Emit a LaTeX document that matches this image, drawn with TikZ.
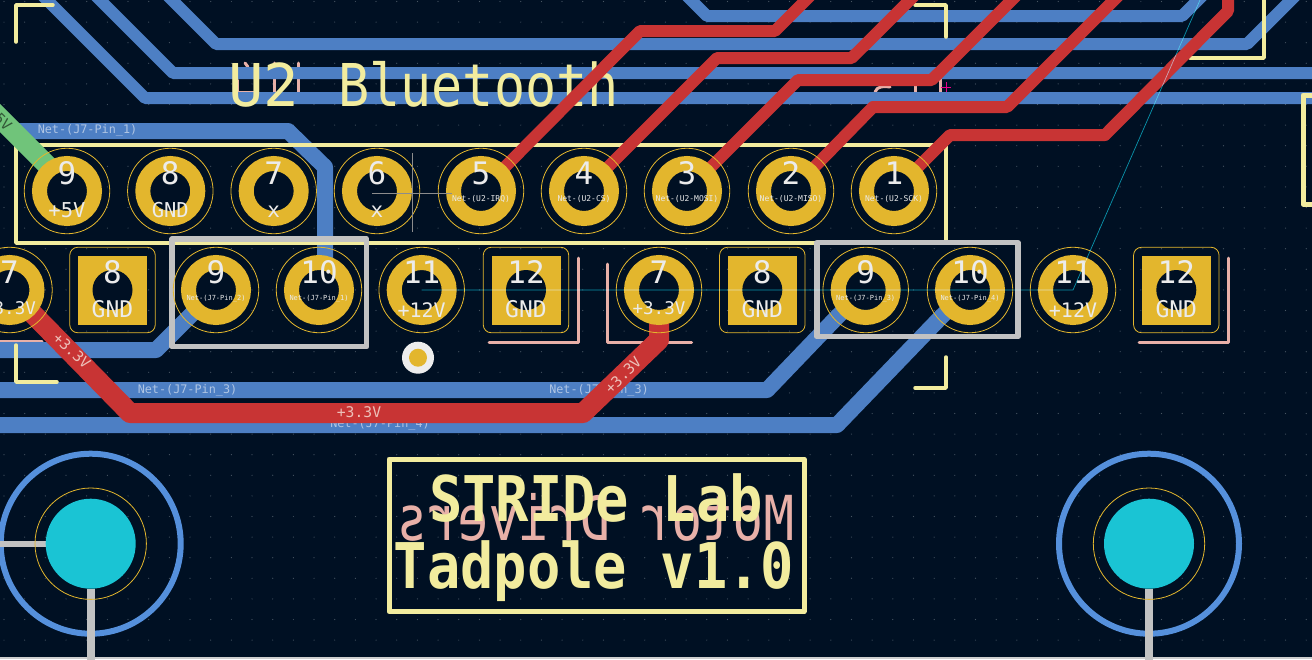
\documentclass[tikz,border=0pt]{standalone}
\usepackage{fontspec}
\usepackage{tikz}
\newfontfamily\kicadfont{DejaVu Sans Mono}
\definecolor{boardbg}{RGB}{0,16,35}
\definecolor{griddot}{RGB}{72,86,100}
\definecolor{bluecu}{RGB}{77,127,196}
\definecolor{redcu}{RGB}{200,52,52}
\definecolor{greencu}{RGB}{112,196,122}
\definecolor{silk}{RGB}{242,236,158}
\definecolor{pinksilk}{RGB}{232,176,168}
\definecolor{edgegrey}{RGB}{194,194,194}
\definecolor{padgold}{RGB}{227,182,45}
\definecolor{holecyan}{RGB}{26,196,212}
\definecolor{ringblue}{RGB}{85,144,220}
\definecolor{ratteal}{RGB}{10,140,158}
\tikzset{
  bluetrack/.style={draw=bluecu,line width=12pt,line join=round,line cap=round},
  bluewide/.style={draw=bluecu,line width=16pt,line join=round},
  redtrack/.style={draw=redcu,line width=12pt,line join=round},
  redwide/.style={draw=redcu,line width=20pt,line join=round},
  silkline/.style={draw=silk,line width=3.5pt,line join=round,line cap=round},
  pinkline/.style={draw=pinksilk,line width=3pt,line join=round,line cap=round},
  edgeline/.style={draw=edgegrey,line width=5.5pt,line join=round},
  clearring/.style={circle,draw=padgold,line width=0.8pt,minimum size=85.5pt,inner sep=0pt,outer sep=0pt},
  padring/.style={circle,draw=padgold,fill=boardbg,line width=15pt,minimum size=55pt,inner sep=0pt,outer sep=0pt},
  padsquare/.style={rectangle,fill=padgold,minimum size=69pt,inner sep=0pt,outer sep=0pt},
  clearsquare/.style={rectangle,rounded corners=8pt,draw=padgold,line width=0.8pt,minimum size=85.5pt,inner sep=0pt,outer sep=0pt},
  padhole/.style={circle,fill=boardbg,minimum size=40pt,inner sep=0pt,outer sep=0pt},
  padnum/.style={anchor=base,inner sep=0pt,text=white!92!black,font=\kicadfont\fontsize{31}{31}\selectfont},
  padsub/.style={anchor=base,inner sep=0pt,text=white!92!black,font=\kicadfont\fontsize{#1}{#1}\selectfont},
  netlabel/.style={inner sep=0pt,text=bluecu!45!white,font=\kicadfont\fontsize{11.8}{12}\selectfont},
  redlabel/.style={inner sep=0pt,text=pinksilk!80!white,font=\kicadfont\fontsize{14.7}{15}\selectfont},
  boardtext/.style={anchor=base,inner sep=0pt,text=silk,transform shape,xscale=0.88,font=\kicadfont\bfseries\fontsize{63}{63}\selectfont},
  titletext/.style={anchor=base,inner sep=0pt,text=silk,font=\kicadfont\fontsize{59}{59}\selectfont},
  holedisc/.style={circle,fill=holecyan,minimum size=90pt,inner sep=0pt,outer sep=0pt},
  holeclear/.style={circle,draw=padgold,line width=0.8pt,minimum size=111.4pt,inner sep=0pt,outer sep=0pt},
  holering/.style={circle,draw=ringblue,line width=6pt,minimum size=180pt,inner sep=0pt,outer sep=0pt},
}
\begin{document}
\begin{tikzpicture}[x=1pt,y=-1pt]
\path[use as bounding box,clip] (0,0) rectangle (1312,659);
\fill[boardbg] (0,0) rectangle (1312,659);
\foreach \i in {0,...,63} {
  \foreach \j in {0,...,31} {
    \fill[griddot] ({4+20.67*\i},{1.5+20.6*\j}) circle (0.6pt);
  }
}
\foreach \pid/\px in {t9/67,t8/170.3,t7/273.7,t6/377,t5/481,t4/584,t3/687,t2/791,t1/894} {
  \coordinate (\pid) at (\px,191);
}
\foreach \pid/\px in {b7a/9.5,b8a/112.5,b9a/216,b10a/319,b11a/421.7,b12a/526,b7b/659,b8b/762.3,b9b/865.7,b10b/970,b11b/1073,b12b/1176.3} {
  \coordinate (\pid) at (\px,290);
}
\draw[pinkline] (237.5,80) -- (237.5,92) -- (258,92);
\draw[pinkline] (245,63) -- (248,67);
\draw[pinkline] (274,63) -- (274,92);
\draw[pinkline] (298,63) -- (298,92);
\draw[pinkline] (875,92) .. controls (877,86) and (884,86) .. (890,87);
\draw[pinkline] (915,85) -- (915,92);
\draw[pinkline] (940,79) -- (940,92);
\draw[pinkline] (578,258) -- (578,342.7) -- (489,342.7);
\draw[pinkline] (607.7,264) -- (607.7,342.7) -- (691.7,342.7);
\draw[pinkline] (1228,258) -- (1228,342.7) -- (1139,342.7);
\draw[pinkline] (-5,341) -- (42,341);
\draw[magenta,line width=0.7pt] (941,87) -- (951,87) (946,82) -- (946,92);
\draw[bluetrack] (685,-6) -- (707,16) -- (1182,16) -- (1204,-6);
\draw[bluetrack] (166,-6) -- (216,44) -- (1247,44) -- (1297,-6);
\draw[bluetrack] (94,-6) -- (173,73) -- (1320,73);
\draw[bluetrack] (41,-6) -- (145,98) -- (1320,98);
\draw[bluewide] (10,131) -- (288,131) -- (325,167) -- (325,280);
\draw[bluewide] (-5,350) -- (156,350) -- (190,316) -- (b9a);
\draw[bluewide] (-5,390) -- (767,390) -- (838,316) -- (b9b);
\draw[bluewide] (-5,425) -- (837,425) -- (942,316) -- (b10b);
\node[netlabel] (net one) at (87.5,130.5) {Net-(J7-Pin\_1)};
\node[netlabel] (net three a) at (187.5,390) {Net-(J7-Pin\_3)};
\node[netlabel] (net three b) at (599,390) {Net-(J7-Pin\_3)};
\node[netlabel] (net four) at (380,424) {Net-(J7-Pin\_4)};
\draw[silkline] (16,42) -- (16,5) -- (53,5);
\draw[silkline] (16,345) -- (16,382) -- (57,382);
\draw[silkline] (915,5) -- (946,5) -- (946,37);
\draw[silkline] (946,357) -- (946,388) -- (915,388);
\draw[silkline] (1264,-5) -- (1264,58) -- (1190,58);
\draw[silkline,line width=5pt] (1320,95) -- (1303,95) -- (1303,204) -- (1320,204);
\draw[silkline] (16,145) rectangle (946,243);
\node[titletext] (u2 title) at (264,106) {U2};
\node[titletext,transform shape,xscale=0.877] (bt title) at (478.5,106) {Bluetooth};
\node[boardtext,text=pinksilk,xscale=-0.93,font=\kicadfont\fontsize{62}{62}\selectfont] (back title) at (595.5,540) {Motor Drivers};
\node[boardtext] (lab title) at (596,521) {STRIDe Lab};
\node[boardtext] (tadpole title) at (594,588) {Tadpole v1.0};
\draw[silk,line width=5pt,line join=round] (389,459) rectangle (804,611.7);
\draw[greencu,line width=20pt,line join=round] (-10,108) -- (50,168) -- (t9);
\node[inner sep=0pt,rotate=-45,text=greencu!45!black,font=\kicadfont\fontsize{14.7}{15}\selectfont] (five label) at (0,119) {+5V};
\draw[redtrack] (t5) -- (640,31) -- (775,31) -- (812,-6);
\draw[redtrack] (t4) -- (717,58) -- (851.7,58) -- (916,-6);
\draw[redtrack] (t3) -- (798,80) -- (931.7,80) -- (1018,-6);
\draw[redtrack] (t2) -- (873,107) -- (1007,107) -- (1120,-6);
\draw[redtrack] (t1) -- (950,135) -- (1105,135) -- (1228,11) -- (1228,-6);
\draw[redwide] (b7a) -- (33,314) -- (130,413) -- (583,413) -- (659,340) -- (b7b);
\node[redlabel,rotate=-43] (red a) at (72,351) {+3.3V};
\node[redlabel] (red b) at (359,412) {+3.3V};
\node[redlabel,rotate=45] (red c) at (623,375) {+3.3V};
\draw[edgeline] (172,239) rectangle (366.7,346.7);
\draw[edgeline] (817,242.7) rectangle (1018,336.7);
\draw[edgegrey!80!white,line width=2pt] (0,658) -- (1312,658);
\node[holering] (ring left) at (90.7,543.7) {};
\node[holering] (ring right) at (1149,543.7) {};
\draw[edgegrey,line width=6pt] (-5,543.7) -- (46,543.7);
\draw[edgegrey,line width=8pt] (91,589) -- (91,660);
\draw[edgegrey,line width=8pt] (1149,589) -- (1149,660);
\node[holeclear] (clear left) at (90.7,543.7) {};
\node[holeclear] (clear right) at (1149,543.7) {};
\node[holedisc] (hole left) at (90.7,543.7) {};
\node[holedisc] (hole right) at (1149,543.7) {};
\node[circle,fill=white!93!black,minimum size=32pt,inner sep=0pt] (via ring) at (418,357.7) {};
\node[circle,fill=padgold,minimum size=18pt,inner sep=0pt] (via core) at (via ring) {};
\foreach \pid/\num/\lab/\lsize/\ly in {t9/9/{+5V}/20.5/26,t8/8/GND/20.5/26,t7/7/x/21/26,t6/6/x/21/26,t5/5/{Net-(U2-IRQ)}/8/10.5,t4/4/{Net-(U2-CS)}/8/10.5,t3/3/{Net-(U2-MOSI)}/8/10.5,t2/2/{Net-(U2-MISO)}/8/10.5,t1/1/{Net-(U2-SCK)}/8/10.5,b7a/7/{+3.3V}/17.5/24,b9a/9/{Net-(J7-Pin\_2)}/7/10,b10a/10/{Net-(J7-Pin\_1)}/7/10,b11a/11/{+12V}/20/27,b7b/7/{+3.3V}/17.5/24,b9b/9/{Net-(J7-Pin\_3)}/7/10,b10b/10/{Net-(J7-Pin\_4)}/7/10,b11b/11/{+12V}/20/27} {
  \node[clearring] (clear \pid) at (\pid) {};
  \node[padring] (pad \pid) at (\pid) {};
  \node[padnum] (num \pid) at ([yshift=6.5pt]\pid) {\num};
  \node[padsub=\lsize] (sub \pid) at ([yshift=-\ly pt]\pid) {\lab};
}
\foreach \pid/\num in {b8a/8,b12a/12,b8b/8,b12b/12} {
  \node[clearsquare] (clear \pid) at (\pid) {};
  \node[padsquare] (pad \pid) at (\pid) {};
  \node[padhole] (hole \pid) at (\pid) {};
  \node[padnum] (num \pid) at ([yshift=6.5pt]\pid) {\num};
  \node[padsub=23] (sub \pid) at ([yshift=-27pt]\pid) {GND};
}
\draw[ratteal,line width=0.7pt,blend mode=screen] (b11a) -- (b11b) -- (1200,0);
\draw[black!45!white,line width=0.7pt] (372,193) -- (451.7,193) (412.7,153) -- (412.7,232);
\end{tikzpicture}
\end{document}
